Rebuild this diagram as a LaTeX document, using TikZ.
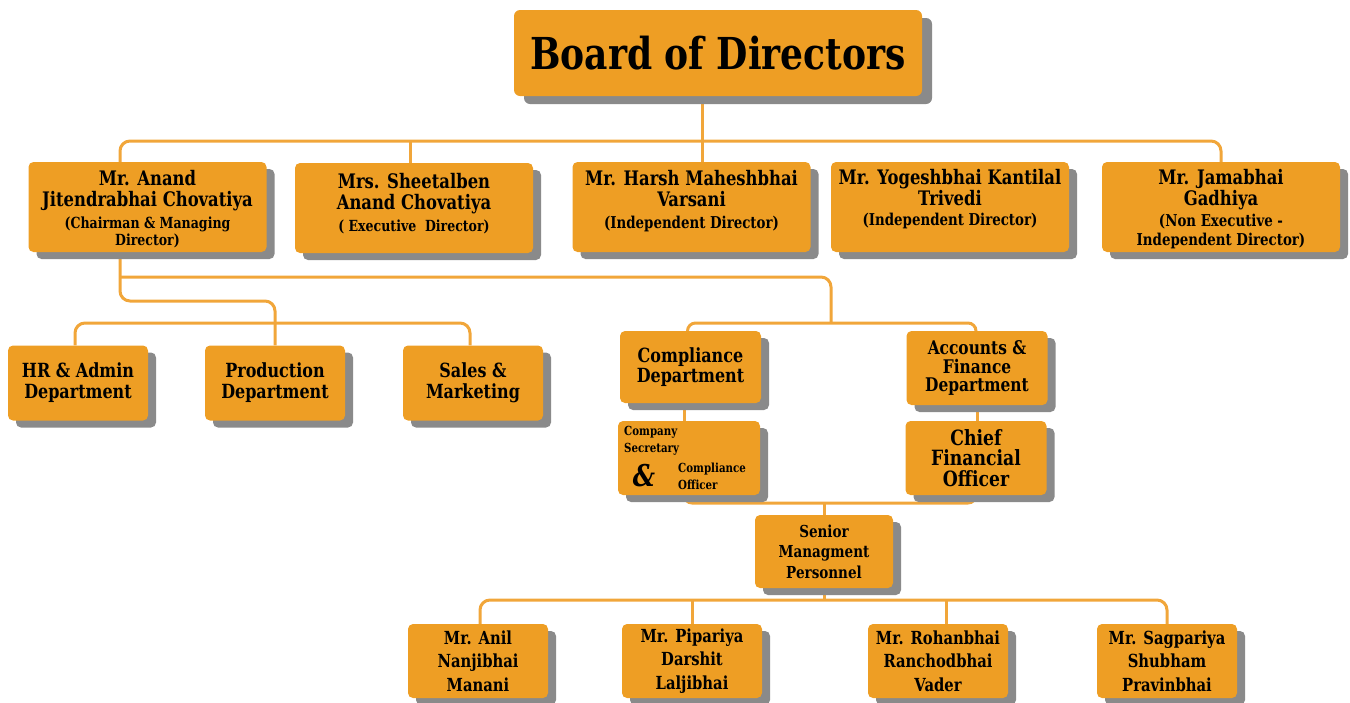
\documentclass[tikz,border=0pt]{standalone}
\usepackage{fontspec}
\setmainfont{DejaVu Serif}[FakeStretch=0.82]
\usetikzlibrary{shadows,calc}
\definecolor{org}{RGB}{238,158,36}
\definecolor{lin}{RGB}{241,166,58}
\definecolor{shd}{RGB}{138,138,138}
\pgfdeclarelayer{bg}
\pgfsetlayers{bg,main}
\tikzset{
  shadowed/.style={drop shadow={shadow xshift=8pt,shadow yshift=-7pt,fill=shd,opacity=1}},
  box/.style={fill=org, rounded corners=5pt, inner sep=0pt, shadowed, align=center, font=\bfseries},
  boardbox/.style={fill=org, rounded corners=6pt, inner sep=0pt, minimum width=408pt, minimum height=86pt,
     drop shadow={shadow xshift=10pt,shadow yshift=-8pt,fill=shd,opacity=1}, font=\fontsize{44}{48}\selectfont\bfseries},
  dirbox/.style={box, minimum width=238pt, minimum height=90pt},
  deptbox/.style={box, minimum width=140pt, minimum height=75pt, font=\fontsize{19.5}{21}\selectfont\bfseries},
  grpbox/.style={box, minimum width=141pt, minimum height=73pt, font=\fontsize{19.5}{20.5}\selectfont\bfseries},
  persbox/.style={box, minimum width=140pt, minimum height=74pt, font=\fontsize{18}{23.5}\selectfont\bfseries},
  dirtxt/.style={anchor=north, inner sep=0pt, align=center, font=\fontsize{20}{21.5}\selectfont\bfseries},
  smalltxt/.style={anchor=base west, inner sep=0pt, font=\fontsize{12.5}{14}\selectfont\bfseries},
  conn/.style={draw=lin, line width=3pt},
}
\newcommand{\subt}{\fontsize{15.3}{17}\selectfont}
\newcommand{\subtb}{\fontsize{16.3}{17}\selectfont}
\begin{document}
\begin{tikzpicture}[x=1pt,y=-1pt]
\useasboundingbox (0,0) rectangle (1350,702);

% Board
\node[boardbox] (board) at (718,53) {Board of Directors};

% Directors
\node[dirbox] (anand) at (147.5,207) {};
\node[dirtxt] (anandT) at ([yshift=-8pt]anand.north) {Mr. Anand\\Jitendrabhai Chovatiya\\{\subt (Chairman \& Managing}\\[-4pt]{\subt Director)}};
\node[dirbox] (shee) at (414,208) {};
\node[dirtxt] (sheeT) at ([yshift=-10pt]shee.north) {Mrs. Sheetalben\\Anand Chovatiya\\{\subt ( Executive\ \ Director)}};
\node[dirbox] (harsh) at (691.5,207) {};
\node[dirtxt] (harshT) at ([yshift=-8pt]harsh.north) {Mr. Harsh Maheshbhai\\Varsani\\{\subtb (Independent Director)}};
\node[dirbox] (yog) at (950,207) {};
\node[dirtxt] (yogT) at ([yshift=-7pt]yog.north) {Mr. Yogeshbhai Kantilal\\Trivedi\\[-2pt]{\subtb (Independent Director)}};
\node[dirbox] (jam) at (1221,207) {};
\node[dirtxt] (jamT) at ([yshift=-7pt]jam.north) {Mr. Jamabhai\\Gadhiya\\[-1pt]{\subtb (Non Executive -}\\[-2pt]{\subtb Independent Director)}};

% Departments
\node[deptbox] (hr) at (78,383) {HR \& Admin\\Department};
\node[deptbox] (prod) at (275,383) {Production\\Department};
\node[deptbox] (sales) at (473,383) {Sales \&\\Marketing};

\node[grpbox, minimum height=72pt] (comp) at (690.5,367) {Compliance\\Department};
\node[grpbox, minimum height=74pt, font=\fontsize{18.8}{18.6}\selectfont\bfseries] (acc) at (977,368) {Accounts \&\\Finance\\Department};
\node[grpbox, minimum width=142pt, minimum height=74pt] (cs) at (689,458) {};
\node[smalltxt] (csA) at (624,435) {Company};
\node[smalltxt] (csB) at (624,452) {Secretary};
\node[inner sep=0pt, font=\fontsize{30}{30}\selectfont\bfseries\itshape] (csAmp) at (644,476) {\&};
\node[smalltxt] (csC) at (678,472) {Compliance};
\node[smalltxt] (csD) at (678,489) {Officer};
\node[grpbox, minimum height=74pt, font=\fontsize{21}{20.5}\selectfont\bfseries] (cfo) at (976,458) {Chief\\Financial\\Officer};

\node[grpbox, minimum width=138pt, minimum height=73pt, font=\fontsize{16.5}{20.5}\selectfont\bfseries] (sen) at (824,551.5) {Senior\\Managment\\Personnel};

\node[persbox] (anil) at (478,661) {Mr. Anil\\Nanjibhai\\Manani};
\node[persbox] (pip) at (692,661) {Mr. Pipariya\\Darshit\\Laljibhai};
\node[persbox] (roh) at (938,661) {Mr. Rohanbhai\\Ranchodbhai\\Vader};
\node[persbox] (sag) at (1167,661) {Mr. Sagpariya\\Shubham\\Pravinbhai};

% helper coordinates
\coordinate (b1) at (702,141);
\coordinate (b2) at (120,277);
\coordinate (b3) at (831,323);
\coordinate (y301) at (0,301);
\coordinate (y323) at (0,323);
\coordinate (y503) at (0,503);
\coordinate (y600) at (0,600);

\begin{pgfonlayer}{bg}
\draw[conn] (board.south -| b1) -- (harsh.north -| b1);
\draw[conn,rounded corners=10pt] ([xshift=-27.5pt]anand.north) |- (b1) -| (jam.north);
\draw[conn] ([xshift=-4pt]shee.north) -- ([xshift=-4pt]shee.north |- b1);
\draw[conn,rounded corners=10pt] ([xshift=-27.5pt]anand.south) |- (prod.north |- y301) -- (prod.north);
\draw[conn,rounded corners=10pt] (b2) -| (b3);
\draw[conn,rounded corners=8pt] ([xshift=-3pt]comp.north) |- (b3) -| ([xshift=-1pt]acc.north);
\draw[conn,rounded corners=10pt] ([xshift=-3pt]hr.north) |- (prod.north |- y323) -| ([xshift=-3pt]sales.north);
\draw[conn] ([xshift=-6pt]comp.south) -- ([xshift=-6pt]comp.south |- cs.north);
\draw[conn] (acc.south) -- (acc.south |- cfo.north);
\draw[conn,rounded corners=8pt] ([xshift=-5pt]cs.south) |- (sen.north |- y503) -| (cfo.south);
\draw[conn] (sen.north |- y503) -- (sen.north);
\draw[conn] (sen.south) -- (sen.south |- y600);
\draw[conn,rounded corners=10pt] ([xshift=2pt]anil.north) |- (sen.south |- y600) -| (sag.north);
\draw[conn] (pip.north) -- (pip.north |- y600);
\draw[conn] ([xshift=8pt]roh.north) -- ([xshift=8pt]roh.north |- y600);
\end{pgfonlayer}
\end{tikzpicture}
\end{document}
